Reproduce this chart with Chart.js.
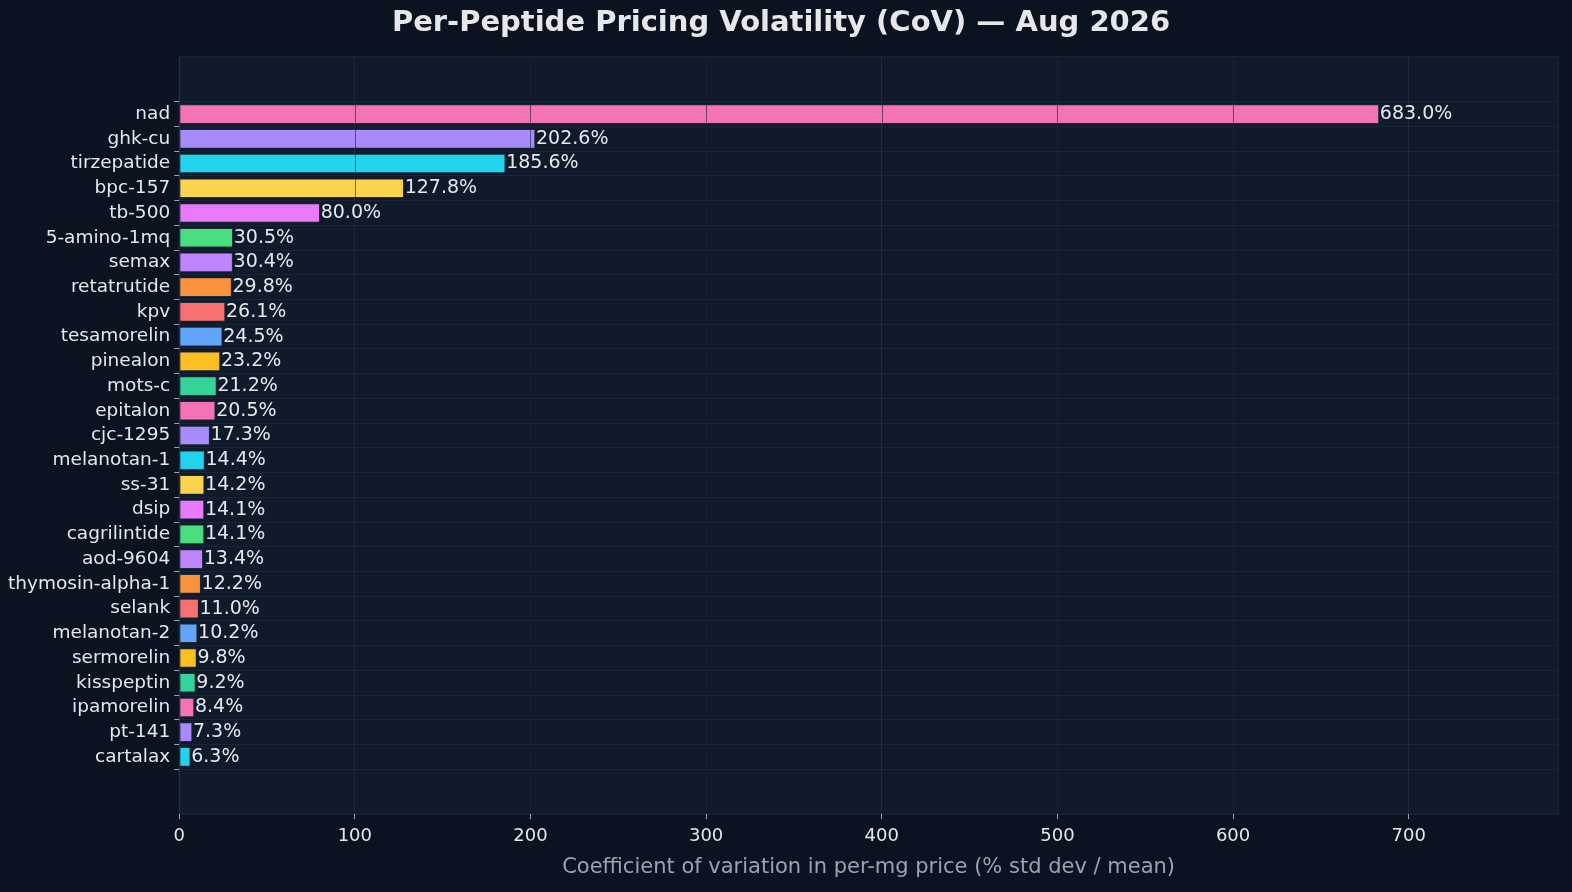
<!DOCTYPE html>
<html>
<head>
<meta charset="utf-8">
<script src="https://cdn.jsdelivr.net/npm/chart.js@4"></script>
<style>
  html, body { margin: 0; padding: 0; background: #0b1320; }
  #wrap { width: 1572px; height: 892px; position: relative; }
</style>
</head>
<body>
<div id="wrap"><canvas id="chart"></canvas></div>
<script>
// Per-peptide pricing volatility, sorted high to low
const peptides = ['nad', 'ghk-cu', 'tirzepatide', 'bpc-157', 'tb-500', '5-amino-1mq', 'semax',
    'retatrutide', 'kpv', 'tesamorelin', 'pinealon', 'mots-c', 'epitalon', 'cjc-1295',
    'melanotan-1', 'ss-31', 'dsip', 'cagrilintide', 'aod-9604', 'thymosin-alpha-1', 'selank',
    'melanotan-2', 'sermorelin', 'kisspeptin', 'ipamorelin', 'pt-141', 'cartalax'];
const covValues = [683.0, 202.6, 185.6, 127.8, 80.0, 30.5, 30.4, 29.8, 26.1, 24.5, 23.2, 21.2,
    20.5, 17.3, 14.4, 14.2, 14.1, 14.1, 13.4, 12.2, 11.0, 10.2, 9.8, 9.2, 8.4, 7.3, 6.3];
const xTicks = [0, 100, 200, 300, 400, 500, 600, 700];
const palette = ['#f472b6', '#a78bfa', '#22d3ee', '#fcd34d', '#e879f9', '#4ade80',
    '#c084fc', '#fb923c', '#f87171', '#60a5fa', '#fbbf24', '#34d399'];

const barColors = peptides.map((p, i) => palette[i % palette.length]);

// draw value labels at bar ends
const valueLabels = {
    id: 'valueLabels',
    afterDatasetsDraw(chart) {
        const ctx = chart.ctx;
        const meta = chart.getDatasetMeta(0);
        ctx.save();
        ctx.font = '19px "DejaVu Sans"';
        ctx.fillStyle = '#e5e7eb';
        ctx.textBaseline = 'middle';
        meta.data.forEach((bar, i) => {
            ctx.fillText(covValues[i].toFixed(1) + '%', bar.x + 1, bar.y);
        });
        ctx.restore();
    }
};

// plot area background, plus vertical grid drawn over the bars
const plotBg = {
    id: 'plotBg',
    beforeDraw(chart) {
        const a = chart.chartArea;
        const ctx = chart.ctx;
        ctx.save();
        ctx.fillStyle = '#0f1a2b';
        ctx.fillRect(a.left, a.top, a.right - a.left, a.bottom - a.top);
        ctx.strokeStyle = '#1f2a3c';
        ctx.strokeRect(a.left, a.top, a.right - a.left, a.bottom - a.top);
        ctx.restore();
    },
    afterDatasetsDraw(chart) {
        const a = chart.chartArea;
        const ctx = chart.ctx;
        const xs = chart.scales.x;
        ctx.save();
        ctx.strokeStyle = 'rgba(15,23,42,0.55)';
        ctx.lineWidth = 1;
        xTicks.slice(1).forEach(v => {
            const px = Math.round(xs.getPixelForValue(v)) + 0.5;
            ctx.beginPath();
            ctx.moveTo(px, a.top);
            ctx.lineTo(px, a.bottom);
            ctx.stroke();
        });
        ctx.restore();
    }
};

new Chart(document.getElementById('chart'), {
    type: 'bar',
    data: {
        datasets: [{
            data: covValues.map((v, i) => ({ x: v, y: i })),
            backgroundColor: barColors,
            borderColor: '#1e293b',
            borderWidth: 1,
            borderSkipped: false,
            barThickness: 19
        }]
    },
    options: {
        indexAxis: 'y',
        responsive: true,
        maintainAspectRatio: false,
        animation: false,
        layout: { padding: { top: 0, right: 14, bottom: 8, left: 4 } },
        plugins: {
            legend: { display: false },
            tooltip: { enabled: false },
            title: {
                display: true,
                text: 'Per-Peptide Pricing Volatility (CoV) — Aug 2026',
                color: '#e5e7eb',
                font: { family: 'DejaVu Sans', size: 29, weight: 'bold' },
                padding: { top: 6, bottom: 16 }
            }
        },
        scales: {
            x: {
                type: 'linear',
                min: 0,
                max: 785,
                afterBuildTicks: (axis) => { axis.ticks = xTicks.map(v => ({ value: v })); },
                ticks: { color: '#e5e7eb', font: { family: 'DejaVu Sans', size: 18 }, padding: 6 },
                grid: { color: 'rgba(148,163,184,0.12)', drawTicks: true, tickLength: 5, tickColor: '#9ca3af' },
                border: { display: false },
                title: {
                    display: true,
                    text: 'Coefficient of variation in per-mg price (% std dev / mean)',
                    color: '#9ca3af',
                    font: { family: 'DejaVu Sans', size: 21 },
                    padding: { top: 2 }
                }
            },
            y: {
                type: 'linear',
                reverse: true,
                min: -1.75,
                max: 27.75,
                afterBuildTicks: (axis) => { axis.ticks = peptides.map((p, i) => ({ value: i })); },
                ticks: {
                    color: '#e5e7eb',
                    font: { family: 'DejaVu Sans', size: 18.5 },
                    callback: (v) => peptides[v] || '',
                    padding: 4
                },
                grid: { color: 'rgba(148,163,184,0.08)', tickLength: 5, tickColor: '#9ca3af' },
                border: { display: false }
            }
        }
    },
    plugins: [plotBg, valueLabels]
});
</script>
</body>
</html>
